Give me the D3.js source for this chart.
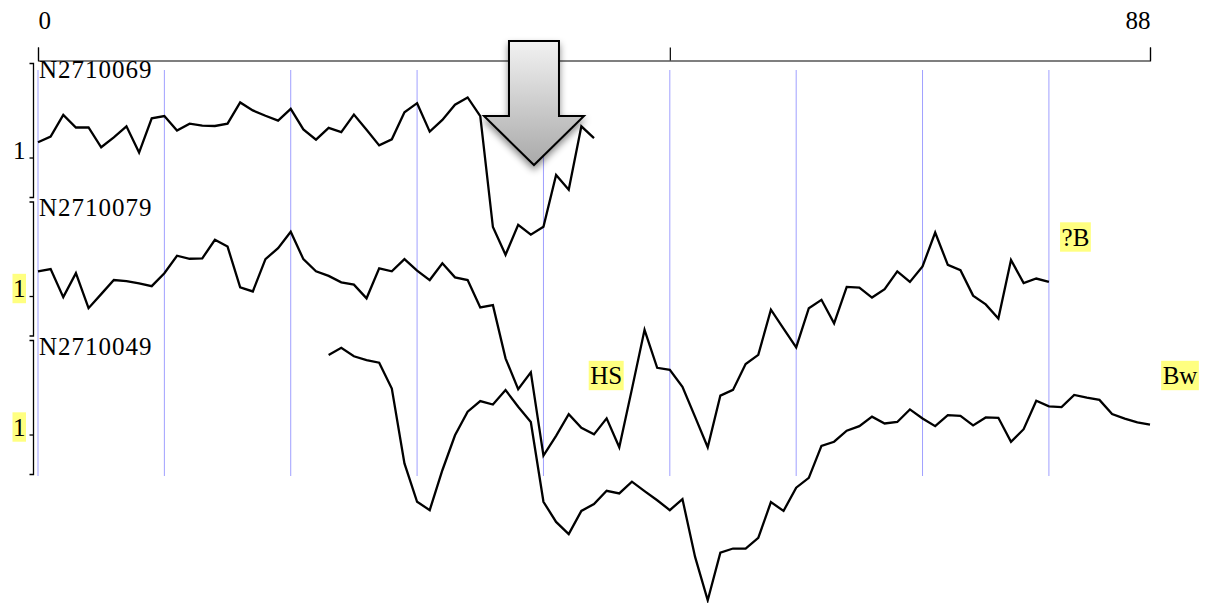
<!DOCTYPE html>
<html>
<head>
<meta charset="utf-8">
<script src="https://cdn.jsdelivr.net/npm/d3@7"></script>
<style>
  body { margin: 0; background: #fff; }
  svg { display: block; }
</style>
</head>
<body>
<div id="chart"></div>
<script>
// datos
var trackNames = ["N2710069", "N2710079", "N2710049"];
var trackStarts = [0, 0, 23];
var xTicks = [0, 50, 88];
var xTickLabels = ["0", "", "88"];
var gridTicks = [0, 10, 20, 30, 40, 50, 60, 70, 80];
var yTicks = [1];

var s069 = [1.40, 1.55, 2.12, 1.79, 1.79, 1.27, 1.53, 1.82, 1.13, 2.03,
  2.09, 1.71, 1.89, 1.84, 1.83, 1.89, 2.45, 2.24, 2.10, 1.97,
  2.28, 1.74, 1.47, 1.78, 1.67, 2.13, 1.73, 1.32, 1.48, 2.19,
  2.43, 1.68, 1.99, 2.39, 2.58, 2.09, -0.83, -1.56, -0.77, -1.03,
  -0.82, 0.54, 0.15, 1.82, 1.51];

var s079 = [1.65, 1.71, 0.97, 1.60, 0.68, 1.05, 1.42, 1.39, 1.33, 1.26,
  1.60, 2.06, 1.98, 1.99, 2.48, 2.30, 1.23, 1.12, 1.97, 2.26,
  2.69, 1.97, 1.65, 1.53, 1.36, 1.30, 0.94, 1.73, 1.65, 1.97,
  1.67, 1.42, 1.86, 1.49, 1.42, 0.70, 0.76, -0.64, -1.45, -1.01,
  -3.20, -2.68, -2.11, -2.47, -2.64, -2.22, -2.98, -1.45, 0.11, -0.89,
  -0.94, -1.39, -2.18, -2.98, -1.62, -1.47, -0.79, -0.55, 0.64, 0.14,
  -0.35, 0.68, 0.90, 0.28, 1.24, 1.22, 0.96, 1.18, 1.65, 1.37,
  1.78, 2.67, 1.82, 1.68, 1.01, 0.78, 0.41, 1.95, 1.34, 1.46,
  1.37];

var s049 = [3.09, 3.28, 3.06, 2.96, 2.89, 2.21, 0.24, -0.77, -0.99, 0.06,
  0.98, 1.60, 1.88, 1.79, 2.17, 1.73, 1.33, -0.77, -1.30, -1.62,
  -1.01, -0.83, -0.48, -0.55, -0.24, -0.49, -0.73, -0.99, -0.70, -2.22,
  -3.36, -2.11, -2.00, -2.00, -1.72, -0.78, -1.01, -0.40, -0.14, 0.70,
  0.81, 1.10, 1.22, 1.47, 1.29, 1.33, 1.66, 1.42, 1.22, 1.51,
  1.49, 1.24, 1.45, 1.44, 0.81, 1.14, 1.89, 1.74, 1.72, 2.04,
  1.97, 1.91, 1.54, 1.42, 1.32, 1.26];

var seriesValues = [s069, s079, s049];

// etiquetas resaltadas
var notaTexto = ["?B", "HS", "Bw"];
var notaTrack = [1, 2, 2];
var notaX = [81, 43.7, 89];
var flechaX = 39.25;

// parametros
var width = 1208;
var height = 603;
var trackTop0 = 63;
var trackPaso = 138.5;
var trackAlto = 134;
var fuente = "'Liberation Serif', 'Times New Roman', serif";
var amarillo = "#ffff80";

var xScale = d3.scaleLinear().domain([0, 88]).range([38, 1150]);
var yScale = d3.scaleLinear().domain([-0.039, 3.487]).range([trackAlto, 0]);

var svg = d3.select("#chart").append("svg")
  .attr("width", width)
  .attr("height", height);

var defs = svg.append("defs");
var grad = defs.append("linearGradient")
  .attr("id", "gradFlecha")
  .attr("x1", 0).attr("y1", 0).attr("x2", 0).attr("y2", 1);
grad.append("stop").attr("offset", "0%").attr("stop-color", "#f2f2f2");
grad.append("stop").attr("offset", "100%").attr("stop-color", "#a9a9a9");

var sombra = defs.append("filter")
  .attr("id", "sombra")
  .attr("x", "-30%").attr("y", "-30%")
  .attr("width", "160%").attr("height", "160%");
sombra.append("feDropShadow")
  .attr("dx", 0).attr("dy", 4)
  .attr("stdDeviation", 3.5)
  .attr("flood-color", "#000")
  .attr("flood-opacity", 0.45);

function resaltar(txt, padX, padY) {
  var b = txt.node().getBBox();
  d3.select(txt.node().parentNode).insert("rect", function () { return txt.node(); })
    .attr("x", b.x - padX)
    .attr("y", b.y - padY)
    .attr("width", b.width + 2 * padX)
    .attr("height", b.height + 2 * padY)
    .attr("fill", amarillo);
}

/* lineas azules */
svg.append("g")
  .selectAll("line")
  .data(gridTicks).enter()
  .append("line")
  .attr("x1", d => xScale(d))
  .attr("x2", d => xScale(d))
  .attr("y1", 70)
  .attr("y2", 476)
  .attr("stroke", "#8f8fff")
  .attr("stroke-width", 1)
  .attr("opacity", 0.85);

/* eje superior */
var xAxis = d3.axisTop(xScale)
  .tickValues(xTicks)
  .tickSize(13)
  .tickPadding(19)
  .tickFormat((d, i) => xTickLabels[i]);

var gx = svg.append("g")
  .attr("transform", "translate(0,60.5)")
  .call(xAxis);
gx.attr("font-family", fuente).attr("font-size", 25);
gx.selectAll("path, line").attr("stroke", "#000").attr("stroke-width", 1.2);
gx.selectAll(".tick text")
  .attr("fill", "#000")
  .attr("text-anchor", (d, i) => i === 0 ? "start" : "end");

/* pistas */
trackNames.forEach(function (name, t) {
  var top = trackTop0 + t * trackPaso;
  var g = svg.append("g").attr("transform", `translate(0,${top})`);

  var yAxis = d3.axisLeft(yScale)
    .tickValues(yTicks)
    .tickSize(3.5)
    .tickSizeOuter(3.5)
    .tickPadding(4)
    .tickFormat(d3.format("d"));

  var ga = g.append("g")
    .attr("transform", "translate(33,0)")
    .call(yAxis);
  ga.attr("font-family", fuente).attr("font-size", 25);
  ga.selectAll("path, line").attr("stroke", "#000").attr("stroke-width", 1.3);
  var tl = ga.selectAll(".tick text").attr("fill", "#000").attr("dy", "0.02em");
  if (t > 0) resaltar(tl, 0.5, 1.2);

  g.append("text")
    .attr("x", 39)
    .attr("y", 14.5)
    .attr("font-family", fuente)
    .attr("font-size", 25)
    .attr("letter-spacing", 1)
    .attr("fill", "#000")
    .text(name);
});

/* series */
var line = d3.line()
  .x(d => xScale(d.x))
  .y(d => d.y);

seriesValues.forEach(function (vals, t) {
  var top = trackTop0 + t * trackPaso;
  var pts = vals.map((v, i) => ({ x: trackStarts[t] + i, y: top + yScale(v) }));
  svg.append("path")
    .attr("d", line(pts))
    .attr("fill", "none")
    .attr("stroke", "#000")
    .attr("stroke-width", 2.3)
    .attr("stroke-linejoin", "miter");
});

/* notas */
notaTexto.forEach(function (txt, k) {
  var top = trackTop0 + notaTrack[k] * trackPaso;
  var g = svg.append("g");
  var el = g.append("text")
    .attr("x", xScale(notaX[k]))
    .attr("y", top + 44)
    .attr("font-family", fuente)
    .attr("font-size", 25)
    .attr("fill", "#000")
    .text(txt);
  resaltar(el, 1.5, 1.2);
});

/* flecha */
var cx = xScale(flechaX);
var flecha = d3.path();
flecha.moveTo(cx - 25, 41);
flecha.lineTo(cx + 25, 41);
flecha.lineTo(cx + 25, 116);
flecha.lineTo(cx + 50, 116);
flecha.lineTo(cx, 165);
flecha.lineTo(cx - 50, 116);
flecha.lineTo(cx - 25, 116);
flecha.closePath();

svg.append("path")
  .attr("d", flecha.toString())
  .attr("fill", "url(#gradFlecha)")
  .attr("stroke", "#000")
  .attr("stroke-width", 2)
  .attr("stroke-linejoin", "miter")
  .attr("filter", "url(#sombra)");
</script>
</body>
</html>
